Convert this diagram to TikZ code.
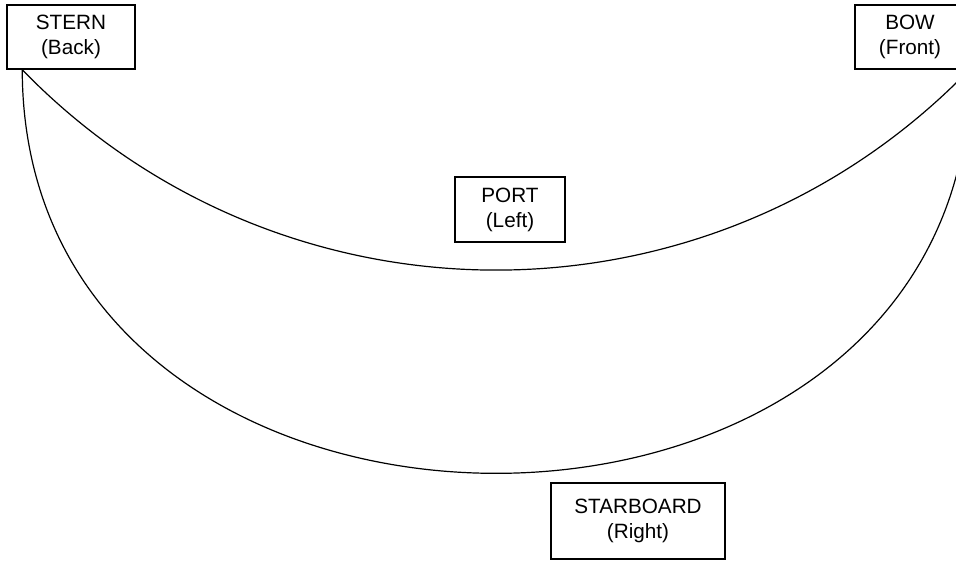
\documentclass[tikz,border=0pt]{standalone}
\usepackage{fontspec}
\setmainfont{Liberation Sans}
\begin{document}
\begin{tikzpicture}[x=1pt,y=-1pt,
  box/.style={draw, line width=1.5pt, align=center, inner sep=0pt,
    font=\fontsize{20.7}{25}\selectfont},
  link/.style={line width=1.2pt}]
\useasboundingbox (0,0) rectangle (956,569);
\node[box, minimum width=128pt, minimum height=64pt] (stern) at (71,37) {STERN\\(Back)};
\node[box, minimum width=110pt, minimum height=64pt] (bow) at (910,37) {BOW\\(Front)};
\node[box, minimum width=110pt, minimum height=65pt] (port) at (510,209.5) {PORT\\(Left)};
\node[box, minimum width=174pt, minimum height=76pt] (starboard) at (638,521) {STARBOARD\\(Right)};
\coordinate (sA) at ([xshift=16pt]stern.south west);
\coordinate (bA) at (970,69);
\draw[link] (sA) .. controls (282,337) and (711,337) .. (bA);
\draw[link] (sA) .. controls (23,608) and (970,608) .. (bA);
\end{tikzpicture}
\end{document}
